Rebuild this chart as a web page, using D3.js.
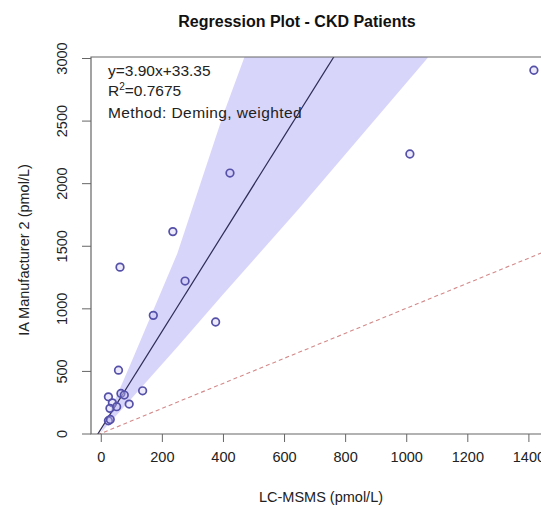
<!DOCTYPE html>
<html>
<head>
<meta charset="utf-8">
<script src="https://cdn.jsdelivr.net/npm/d3@7"></script>
<style>
  html, body { margin: 0; padding: 0; background: #fff; }
  svg { display: block; font-family: "Liberation Sans", Arial, Helvetica, sans-serif; }
</style>
</head>
<body>
<svg id="chart" width="541" height="507"></svg>
<script>
// Measurements: LC-MSMS (x) vs IA Manufacturer 2 (y), pmol/L
const lcmsms = [63, 276, 172, 376, 58, 137, 66, 77, 25, 93, 38, 30, 52, 25, 31, 423, 236, 1012, 1418];
const iaValues = [1329, 1218, 944, 891, 506, 341, 320, 307, 293, 235, 245, 201, 214, 102, 112, 2081, 1613, 2233, 2902];

// Deming fit and its confidence band
const slope = 3.90;
const intercept = 33.35;
const rSquared = 0.7675;
const bandX = [0, 100, 250, 400, 650, 1070];
const bandLow = [5, 277, 690, 1110, 1800, 3000];
const bandHigh = [5, 570, 1435, 2540, 4200, 7000];

const xTicks = [0, 200, 400, 600, 800, 1000, 1200, 1400];
const yTicks = [0, 500, 1000, 1500, 2000, 2500, 3000];

const svg = d3.select("#chart");
const plotLeft = 91, plotTop = 57, plotBottom = 434, plotRight = 562;

const x = d3.scaleLinear().domain([-32, 1510]).range([plotLeft, plotRight]);
const y = d3.scaleLinear().domain([0, 3000]).range([plotBottom - 0.5, 58]);

svg.append("defs").append("clipPath").attr("id", "plotArea")
  .append("rect").attr("x", plotLeft).attr("y", plotTop)
  .attr("width", plotRight - plotLeft).attr("height", plotBottom - plotTop);

const plot = svg.append("g").attr("clip-path", "url(#plotArea)");

// confidence band
const band = d3.area()
  .x((d, i) => x(bandX[i]))
  .y0((d, i) => y(bandLow[i]))
  .y1((d, i) => y(bandHigh[i]));
plot.append("path").datum(bandX).attr("d", band)
  .attr("fill", "#d8d5fb").attr("stroke", "none");

// identity line
plot.append("line")
  .attr("x1", x(-32)).attr("y1", y(-32))
  .attr("x2", x(1510)).attr("y2", y(1510))
  .attr("stroke", "#d48a8a").attr("stroke-width", 1.1)
  .attr("stroke-dasharray", "4,3");

// regression line
plot.append("line")
  .attr("x1", x(-20)).attr("y1", y(slope * -20 + intercept))
  .attr("x2", x(900)).attr("y2", y(slope * 900 + intercept))
  .attr("stroke", "#2e2b55").attr("stroke-width", 1.2);

// points
plot.selectAll("circle").data(lcmsms).join("circle")
  .attr("cx", (d) => x(d))
  .attr("cy", (d, i) => y(iaValues[i]))
  .attr("r", 3.8)
  .attr("fill", "rgba(200,196,244,0.35)")
  .attr("stroke", "#5550a8")
  .attr("stroke-width", 1.7);

// frame
svg.append("path")
  .attr("d", `M${plotRight},${plotTop}H${plotLeft}V${plotBottom}H${plotRight}`)
  .attr("fill", "none").attr("stroke", "#666").attr("stroke-width", 1.2);

// x axis
const xAxis = svg.append("g").attr("transform", `translate(0,${plotBottom})`)
  .call(d3.axisBottom(x).tickValues(xTicks).tickSize(8).tickPadding(10).tickFormat(d3.format("d")));
xAxis.select(".domain").remove();
xAxis.selectAll("line").attr("stroke", "#666");
xAxis.selectAll("text").attr("font-size", 14.5).attr("fill", "#222")
  .attr("font-family", "Liberation Sans, Arial, sans-serif");

// y axis, labels running parallel to the axis
const yAxis = svg.append("g").attr("transform", `translate(${plotLeft},0)`)
  .call(d3.axisLeft(y).tickValues(yTicks).tickSize(9).tickFormat(d3.format("d")));
yAxis.select(".domain").remove();
yAxis.selectAll("line").attr("stroke", "#666");
yAxis.selectAll("text")
  .attr("font-size", 14.5).attr("fill", "#222")
  .attr("font-family", "Liberation Sans, Arial, sans-serif")
  .attr("text-anchor", "middle").attr("dy", 0)
  .attr("x", 0).attr("y", 0)
  .attr("transform", "translate(-24,0) rotate(-90)");

// titles
svg.append("text").attr("x", 297).attr("y", 27).attr("text-anchor", "middle")
  .attr("font-size", 16).attr("font-weight", "bold").attr("fill", "#111")
  .text("Regression Plot - CKD Patients");

svg.append("text").attr("x", 321).attr("y", 502).attr("text-anchor", "middle")
  .attr("font-size", 14.5).attr("fill", "#222")
  .text("LC-MSMS (pmol/L)");

svg.append("text").attr("transform", "translate(29,250) rotate(-90)").attr("text-anchor", "middle")
  .attr("font-size", 14.5).attr("fill", "#222")
  .text("IA Manufacturer 2 (pmol/L)");

// fit annotation
const ann = svg.append("g").attr("font-size", 15.5).attr("fill", "#222");
ann.append("text").attr("x", 108).attr("y", 76).text(`y=${slope.toFixed(2)}x+${intercept.toFixed(2)}`);
const r2 = ann.append("text").attr("x", 108).attr("y", 96);
r2.append("tspan").text("R");
r2.append("tspan").attr("font-size", 10).attr("dy", -6).text("2");
r2.append("tspan").attr("dy", 6).text(`=${rSquared.toFixed(4)}`);
ann.append("text").attr("x", 108).attr("y", 118).attr("letter-spacing", 0.4)
  .text("Method: Deming, weighted");
</script>
</body>
</html>
